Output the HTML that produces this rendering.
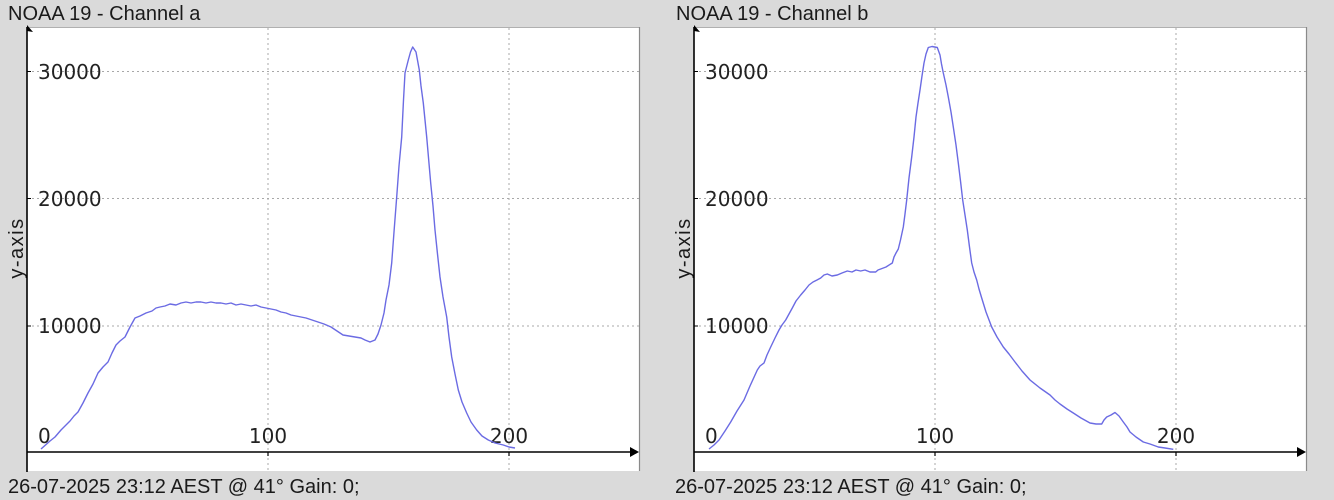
<!DOCTYPE html>
<html>
<head>
<meta charset="utf-8">
<style>
  html, body { margin: 0; padding: 0; background: #dadada; }
  svg { display: block; }
  .title { font-family: "Liberation Sans", sans-serif; font-size: 20px; fill: #1a1a1a; }
  .foot { font-family: "Liberation Sans", sans-serif; font-size: 20px; fill: #1a1a1a; }
  .tick { font-family: "DejaVu Sans", sans-serif; font-size: 20px; fill: #222; }
  .ylab { font-family: "Liberation Sans", sans-serif; font-size: 20px; fill: #1a1a1a; letter-spacing: 1.5px; }
  .grid { stroke: #a8a8a8; stroke-width: 1; stroke-dasharray: 2 3; fill: none; }
  .series { stroke: #6b6be3; stroke-width: 1.4; fill: none; stroke-linejoin: round; }
</style>
</head>
<body>
<svg width="1334" height="500" viewBox="0 0 1334 500" xmlns="http://www.w3.org/2000/svg">
  <rect x="0" y="0" width="1334" height="500" fill="#dadada"/>
  <defs>
    <clipPath id="fc1"><rect x="0" y="472" width="366" height="28"/></clipPath>
    <clipPath id="fc2"><rect x="667" y="472" width="366" height="28"/></clipPath>
  </defs>

  <!-- ============ LEFT PANEL ============ -->
  <g>
    <text class="title" x="8" y="20">NOAA 19 - Channel a</text>
    <rect x="27" y="27" width="613" height="444" fill="#ffffff"/>
    <line x1="27" y1="27.5" x2="640" y2="27.5" stroke="#b0b0b0" stroke-width="1"/>
    <line x1="639.5" y1="27" x2="639.5" y2="471" stroke="#8a8a8a" stroke-width="1.2"/>

    <!-- grid -->
    <line class="grid" x1="27" y1="71.5" x2="639" y2="71.5"/>
    <line class="grid" x1="27" y1="198.5" x2="639" y2="198.5"/>
    <line class="grid" x1="27" y1="326" x2="639" y2="326"/>
    <line class="grid" x1="268" y1="28" x2="268" y2="471"/>
    <line class="grid" x1="509" y1="28" x2="509" y2="471"/>

    <!-- tick labels -->
    <text class="tick" x="38" y="79">30000</text>
    <text class="tick" x="38" y="206">20000</text>
    <text class="tick" x="38" y="333">10000</text>
    <text class="tick" x="38" y="443">0</text>
    <text class="tick" x="268" y="443" text-anchor="middle">100</text>
    <text class="tick" x="509" y="443" text-anchor="middle">200</text>

    <text class="ylab" transform="translate(23,248) rotate(-90)" text-anchor="middle">y-axis</text>

    <!-- series -->
    <polyline class="series" points="41,449 50,441 55,437 61,430 66,425 70,421 74,416 78,412 83,403 88,393 93,384 98,373 103,367 108,362 112,353 116,345 120,341 125,337 130,327 135,318 140,316 146,313 152,311 156,308 160,307 165,306 170,304 176,305 181,303 186,302 191,303 196,302 201,302 206,303 211,302 216,303 221,303 226,304 231,303 236,305 241,304 246,305 251,306 256,305 261,307 266,308 271,309 276,310 281,312 286,313 291,315 296,316 301,317 306,318 312,320 318,322 324,324 331,327 337,331 343,335 349,336 355,337 361,338 365,340 370,342 375,340 378,334 381,325 384,313 386,300 389,285 391.7,263 394,232 396.7,197 399,166 401.7,137 403.5,100 405,73 408.3,60 410.5,52 412.7,47 416,52 419.3,70 421,86 423.3,103 425,120 426.7,137 428.7,160 430.7,183 433,206 435,230 437.5,254 440,277 443,297 446.7,317 449,337 451.7,357 455,374 458.3,390 462,402 466.7,413 471,422 476.7,430 482,436 488.3,440 495,443 503.3,445 509,447 515,448"/>

    <!-- axes -->
    <line x1="27" y1="27" x2="27" y2="472" stroke="#000" stroke-width="1.6"/>
    <polygon points="27,25 33,32 27,31" fill="#000"/>
    <line x1="27" y1="452" x2="632" y2="452" stroke="#000" stroke-width="1.6"/>
    <polygon points="630,447 639,452 630,457" fill="#000"/>
    <line x1="268" y1="452" x2="268" y2="456" stroke="#000" stroke-width="1.2"/>
    <line x1="509" y1="452" x2="509" y2="456" stroke="#000" stroke-width="1.2"/>
    <line x1="27" y1="71.5" x2="31" y2="71.5" stroke="#000" stroke-width="1"/>
    <line x1="27" y1="198.5" x2="31" y2="198.5" stroke="#000" stroke-width="1"/>
    <line x1="27" y1="326" x2="31" y2="326" stroke="#000" stroke-width="1"/>

    <text class="foot" x="8" y="493" clip-path="url(#fc1)">26-07-2025 23:12 AEST @ 41° Gain: 0;</text>
  </g>

  <!-- ============ RIGHT PANEL ============ -->
  <g>
    <text class="title" x="676" y="20">NOAA 19 - Channel b</text>
    <rect x="694" y="27" width="613" height="444" fill="#ffffff"/>
    <line x1="694" y1="27.5" x2="1307" y2="27.5" stroke="#b0b0b0" stroke-width="1"/>
    <line x1="1306.5" y1="27" x2="1306.5" y2="471" stroke="#8a8a8a" stroke-width="1.2"/>

    <line class="grid" x1="694" y1="71.5" x2="1306" y2="71.5"/>
    <line class="grid" x1="694" y1="198.5" x2="1306" y2="198.5"/>
    <line class="grid" x1="694" y1="326" x2="1306" y2="326"/>
    <line class="grid" x1="935" y1="28" x2="935" y2="471"/>
    <line class="grid" x1="1176" y1="28" x2="1176" y2="471"/>

    <text class="tick" x="705" y="79">30000</text>
    <text class="tick" x="705" y="206">20000</text>
    <text class="tick" x="705" y="333">10000</text>
    <text class="tick" x="705" y="443">0</text>
    <text class="tick" x="935" y="443" text-anchor="middle">100</text>
    <text class="tick" x="1176" y="443" text-anchor="middle">200</text>

    <text class="ylab" transform="translate(690,248) rotate(-90)" text-anchor="middle">y-axis</text>

    <polyline class="series" points="709,449 714,445 719,440 725,431 730.7,422 737,411 744,400 750,386 757.3,370 760,366 764,363 767,355 770.7,347 775,338 779,330 782,325 785.7,320 789,314 792.3,308 796,301 800.7,295 805,290 809,285 813,282 817,280 820.7,278 824,275 827.3,274 832,276 837.3,275 842,273 847.3,271 852,272 856,270 860.7,271 865,270 870,272 875.7,272 878,270 880.7,269 886,267 892.3,263 894,257 896,253 898.3,249 900.5,240 903.3,227 905,214 906.7,200 909,178 911.7,157 914,137 916,117 918,103 920,90 922,76 924,63 926,54 928.3,47.5 932,46.5 937.3,47.5 940,55 941.5,64 943.3,73 946,85 948.3,97 951,112 953.3,127 956,145 958.3,163 960.5,181 962.7,200 965,215 967.3,230 969.5,247 971.7,263 974,272 976.7,280 979,289 981.7,298 986,312 991.7,327 997,337 1003.3,347 1009,354 1015,362 1022,371 1030,380 1040,388 1050,395 1055,400 1060,404 1067,409 1073.3,413 1081,418 1090,423 1096,424 1101.7,424 1104,420 1106.7,417 1111,415 1115,412.5 1119,416 1123.3,422 1127,427 1130,432 1136,437 1143.3,442 1150,444 1158.3,447 1165,448 1173.3,449.3"/>

    <line x1="694" y1="27" x2="694" y2="472" stroke="#000" stroke-width="1.6"/>
    <polygon points="694,25 700,32 694,31" fill="#000"/>
    <line x1="694" y1="452" x2="1299" y2="452" stroke="#000" stroke-width="1.6"/>
    <polygon points="1297,447 1306,452 1297,457" fill="#000"/>
    <line x1="935" y1="452" x2="935" y2="456" stroke="#000" stroke-width="1.2"/>
    <line x1="1176" y1="452" x2="1176" y2="456" stroke="#000" stroke-width="1.2"/>
    <line x1="694" y1="71.5" x2="698" y2="71.5" stroke="#000" stroke-width="1"/>
    <line x1="694" y1="198.5" x2="698" y2="198.5" stroke="#000" stroke-width="1"/>
    <line x1="694" y1="326" x2="698" y2="326" stroke="#000" stroke-width="1"/>

    <text class="foot" x="675" y="493" clip-path="url(#fc2)">26-07-2025 23:12 AEST @ 41° Gain: 0;</text>
  </g>
</svg>
</body>
</html>
